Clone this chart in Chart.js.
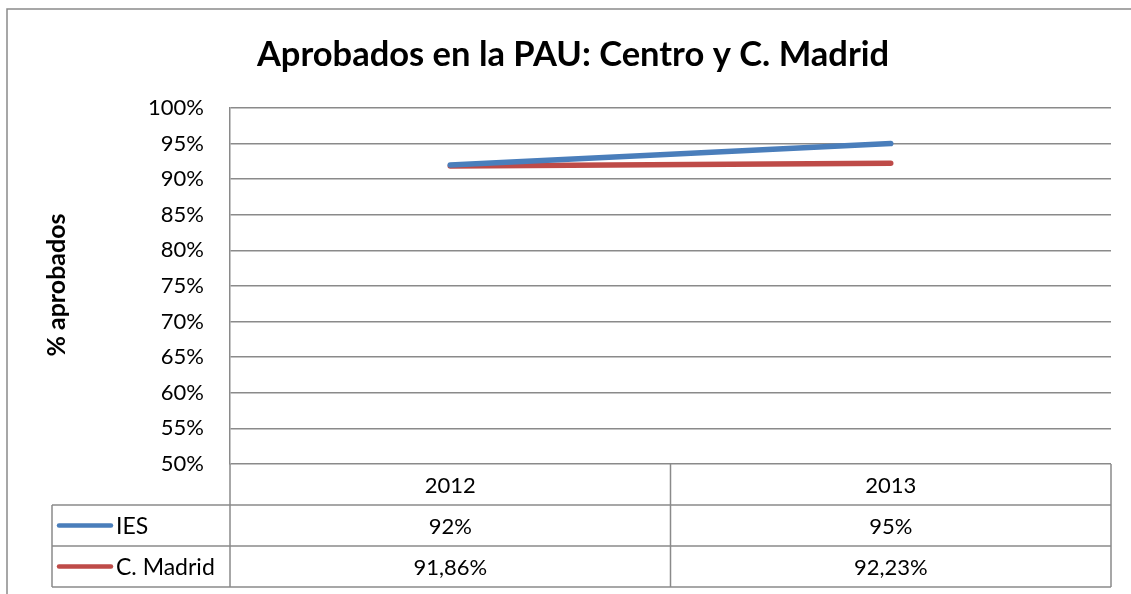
<!DOCTYPE html>
<html>
<head>
<meta charset="utf-8">
<title>Aprobados en la PAU</title>
<script src="https://cdn.jsdelivr.net/npm/chart.js@4"></script>
<style>
  html, body { margin: 0; padding: 0; background: #fff; }
  #wrap { width: 1131px; height: 594px; }
</style>
</head>
<body>
<div id="wrap"><canvas id="pauChart" width="1131" height="594"></canvas></div>
<script>
// datos
var years = ["2012", "2013"];
var seriesNames = ["IES", "C. Madrid"];
var iesValues = [92, 95];
var madridValues = [91.86, 92.23];
var seriesColors = ["#4A7EBB", "#BE4B48"];

var chartTitle = "Aprobados en la PAU: Centro y C. Madrid";
var yTitle = "% aprobados";
var gridColor = "#8A8A8A";
var fontName = "Lato, 'Open Sans', sans-serif";

function pct(v) {
  return String(v).replace(".", ",") + "%";
}

// title, axis title, outer frame and the data table under the plot
var tablePlugin = {
  id: "tablePlugin",
  afterDraw: function (chart) {
    var ctx = chart.ctx;
    var area = chart.chartArea;
    var xs = chart.scales.x;
    var rowH = 41;
    var labelLeft = 52;
    var half = (xs.getPixelForValue(1) - xs.getPixelForValue(0)) / 2;

    ctx.save();
    ctx.strokeStyle = gridColor;
    ctx.lineWidth = 1.5;

    // outer frame (left and top edges visible)
    ctx.beginPath();
    ctx.moveTo(7, 594);
    ctx.lineTo(7, 9);
    ctx.lineTo(1131, 9);
    ctx.stroke();

    // table grid
    ctx.beginPath();
    for (var r = 1; r <= 3; r++) {
      var y = area.bottom + r * rowH;
      ctx.moveTo(labelLeft, y);
      ctx.lineTo(area.right, y);
    }
    ctx.moveTo(labelLeft, area.bottom + rowH);
    ctx.lineTo(labelLeft, area.bottom + 3 * rowH);
    ctx.moveTo(area.left, area.bottom);
    ctx.lineTo(area.left, area.bottom + 3 * rowH);
    for (var i = 0; i < years.length; i++) {
      var xr = xs.getPixelForValue(i) + half;
      ctx.moveTo(xr, area.bottom);
      ctx.lineTo(xr, area.bottom + 3 * rowH);
    }
    ctx.stroke();

    // table text
    ctx.fillStyle = "#000";
    ctx.font = "22px " + fontName;
    ctx.textBaseline = "middle";
    ctx.textAlign = "center";
    var rows = [iesValues, madridValues];
    years.forEach(function (yr, i) {
      var cx = xs.getPixelForValue(i);
      ctx.fillText(yr, cx, area.bottom + rowH / 2 + 1);
      rows.forEach(function (vals, r) {
        ctx.fillText(pct(vals[i]), cx, area.bottom + (r + 1.5) * rowH + 1);
      });
    });

    // legend keys in the first column
    seriesNames.forEach(function (name, r) {
      var cy = area.bottom + (r + 1.5) * rowH;
      ctx.strokeStyle = seriesColors[r];
      ctx.lineWidth = 4.5;
      ctx.lineCap = "round";
      ctx.beginPath();
      ctx.moveTo(59, cy);
      ctx.lineTo(111, cy);
      ctx.stroke();
      ctx.textAlign = "left";
      ctx.font = "23px " + fontName;
      ctx.fillText(name, 116, cy + 1);
    });

    // chart title
    ctx.textAlign = "center";
    ctx.font = "bold 34.5px " + fontName;
    ctx.fillText(chartTitle, 573, 55);

    // y axis title
    ctx.translate(57, 285);
    ctx.rotate(-Math.PI / 2);
    ctx.font = "bold 25px " + fontName;
    ctx.fillText(yTitle, 0, 0);
    ctx.restore();
  },
};

var ctx = document.getElementById("pauChart").getContext("2d");
var pauChart = new Chart(ctx, {
  type: "line",
  data: {
    labels: years,
    datasets: [
      {
        label: seriesNames[0],
        data: iesValues,
        borderColor: seriesColors[0],
        borderWidth: 5.5,
        borderCapStyle: "round",
        pointRadius: 0,
        fill: false,
      },
      {
        label: seriesNames[1],
        data: madridValues,
        borderColor: seriesColors[1],
        borderWidth: 5.5,
        borderCapStyle: "round",
        pointRadius: 0,
        fill: false,
      },
    ],
  },
  options: {
    responsive: false,
    animation: false,
    layout: {
      padding: { left: 0, right: 20, top: 108, bottom: 130 },
    },
    plugins: {
      legend: { display: false },
      title: { display: false },
      tooltip: { enabled: false },
    },
    scales: {
      x: {
        display: false,
        offset: true,
      },
      y: {
        min: 50,
        max: 100,
        ticks: {
          stepSize: 5,
          padding: 26,
          color: "#000",
          font: { family: fontName, size: 22 },
          callback: function (v) {
            return v + "%";
          },
        },
        grid: {
          color: gridColor,
          lineWidth: 1.5,
          drawTicks: false,
        },
        border: { display: true, color: gridColor, width: 1.5 },
        afterFit: function (scale) {
          scale.width = 230;
        },
      },
    },
  },
  plugins: [tablePlugin],
});
</script>
</body>
</html>
